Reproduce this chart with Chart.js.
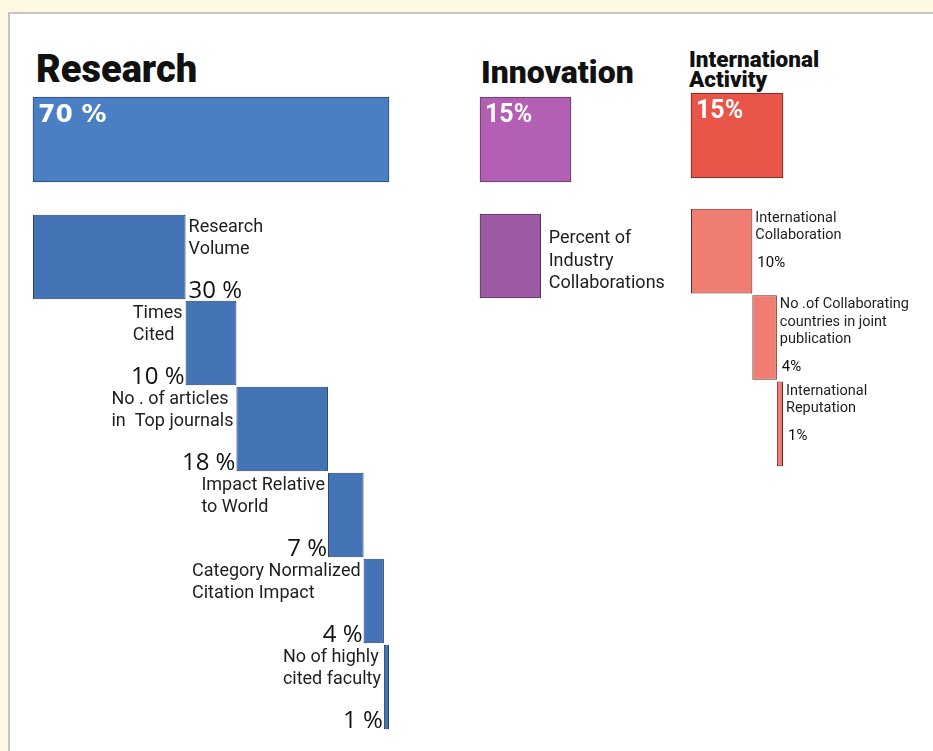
<!DOCTYPE html>
<html>
<head>
<meta charset="utf-8">
<script src="https://cdn.jsdelivr.net/npm/chart.js@4.4.1/dist/chart.umd.min.js"></script>
<style>
  html, body { margin: 0; padding: 0; }
  body { width: 933px; height: 751px; background: #fff9e3; position: relative; overflow: hidden; font-family: Roboto, sans-serif; }
  .panel { position: absolute; left: 8px; top: 12px; right: 0; bottom: 0; background: #fff; border-left: 2px solid #c4c4cc; border-top: 2px solid #c4c4cc; }
  canvas, .head { position: absolute; }
  .head { font-weight: 900; color: #111; white-space: nowrap; }
</style>
</head>
<body>
<div class="panel"></div>

<div class="head" style="left:36px; top:50px; font-size:38px; line-height:38px;">Research</div>
<div class="head" style="left:481px; top:56px; font-size:32px; line-height:32px;">Innovation</div>
<div class="head" style="left:689px; top:49px; font-size:22.5px; line-height:20px;">International<br>Activity</div>

<canvas id="researchTotal" width="360" height="89" style="left:31px; top:95px;"></canvas>
<canvas id="researchParts" width="360" height="520" style="left:31px; top:212px;"></canvas>
<canvas id="innovationTotal" width="95" height="89" style="left:478px; top:95px;"></canvas>
<canvas id="innovationParts" width="195" height="88" style="left:478px; top:212px;"></canvas>
<canvas id="internationalTotal" width="96" height="89" style="left:689px; top:91px;"></canvas>
<canvas id="internationalParts" width="236" height="263" style="left:689px; top:206px;"></canvas>

<script>
// Weights of each pillar and of the indicators that make it up
const researchTotal = 70;
const researchNames = [
    ['Research', 'Volume'],
    ['Times', 'Cited'],
    ['No . of articles', 'in  Top journals'],
    ['Impact Relative', 'to World'],
    ['Category Normalized', 'Citation Impact'],
    ['No of highly', 'cited faculty']
];
const researchValues = [30, 10, 18, 7, 4, 1];

const innovationTotal = 15;
const innovationNames = [['Percent of', 'Industry', 'Collaborations']];
const innovationValues = [10];

const internationalTotal = 15;
const internationalNames = [
    ['International', 'Collaboration'],
    ['No .of Collaborating', 'countries in joint', 'publication'],
    ['International', 'Reputation']
];
const internationalValues = [10, 4, 1];

// Writes names and percentages next to (or inside) each bar
const barLabels = {
    id: 'barLabels',
    afterDatasetsDraw(chart, args, opts) {
        const ctx = chart.ctx;
        const ds = chart.data.datasets[0];
        chart.getDatasetMeta(0).data.forEach((bar, i) => {
            const [a, b] = ds.data[i];
            const text = opts.format(Math.round(b - a));
            const left = Math.min(bar.x, bar.base);
            const right = Math.max(bar.x, bar.base);
            const top = bar.y - bar.height / 2;
            const bottom = bar.y + bar.height / 2;

            ctx.save();
            ctx.textBaseline = 'alphabetic';
            ctx.textAlign = 'left';

            if (opts.inside) {
                ctx.font = opts.valueFont;
                ctx.fillStyle = '#fff';
                ctx.fillText(text, left + opts.dx, top + opts.dy);
                ctx.restore();
                return;
            }

            const lines = [].concat(chart.data.labels[i]);
            const side = opts.side(i);
            ctx.font = opts.nameFont;
            ctx.fillStyle = '#1e1e1e';
            const w = Math.max(...lines.map(l => ctx.measureText(l).width));
            const x = side === 'left' ? left - opts.gap - w : right + opts.gap;
            const y0 = top + opts.nameDy;
            lines.forEach((l, k) => ctx.fillText(l, x, y0 + k * opts.lineHeight));

            if (opts.showValue) {
                ctx.font = opts.valueFont;
                ctx.fillStyle = '#111';
                if (opts.valueAt === 'bottom') {
                    if (side === 'left') {
                        ctx.textAlign = 'right';
                        ctx.fillText(text, left - 1, bottom - 1);
                    } else {
                        ctx.fillText(text, right + opts.gap, bottom - 1);
                    }
                } else {
                    const yl = y0 + (lines.length - 1) * opts.lineHeight;
                    ctx.fillText(text, right + opts.valueDx, yl + opts.valueGap);
                }
            }
            ctx.restore();
        });
    }
};

// Floating horizontal bars, each one starting where the previous ended
function waterfall(id, names, values, max, style) {
    const ranges = [];
    let run = 0;
    values.forEach(v => {
        ranges.push([run, run + v]);
        run += v;
    });

    return new Chart(document.getElementById(id), {
        type: 'bar',
        data: {
            labels: names,
            datasets: [{
                data: ranges,
                backgroundColor: style.color,
                borderColor: style.border,
                borderWidth: 1,
                borderSkipped: false,
                barPercentage: style.barPct || 1,
                categoryPercentage: 1,
                clip: false
            }]
        },
        options: {
            indexAxis: 'y',
            responsive: false,
            animation: false,
            devicePixelRatio: 1,
            layout: { padding: style.padding },
            scales: {
                x: { type: 'linear', display: false, min: 0, max: max },
                y: { display: false }
            },
            plugins: {
                legend: { display: false },
                tooltip: { enabled: false },
                barLabels: style.labels
            }
        },
        plugins: [barLabels]
    });
}

const pad = { left: 2, right: 2, top: 2, bottom: 2 };
const whiteValue = (font, fmt) => ({ inside: true, valueFont: font, dx: 5, dy: 25, format: fmt });

// Research
waterfall('researchTotal', ['Research'], [researchTotal], researchTotal, {
    color: '#4a7fc3', border: '#2c4a70', padding: pad,
    labels: whiteValue('bold 25px "DejaVu Sans"', v => v + ' %')
});
waterfall('researchParts', researchNames, researchValues, researchTotal, {
    color: '#4473b6', border: '#263f60', padding: pad, barPct: 0.985,
    labels: {
        side: i => (i === 0 ? 'right' : 'left'),
        nameFont: '18px Roboto', lineHeight: 22, nameDy: 17, gap: 3,
        showValue: true, valueAt: 'bottom', valueFont: '24px "Open Sans"',
        format: v => v + ' %'
    }
});

// Innovation
waterfall('innovationTotal', ['Innovation'], [innovationTotal], innovationTotal, {
    color: '#b35fb3', border: '#5b3a5b', padding: pad,
    labels: whiteValue('bold 25px Roboto', v => v + '%')
});
waterfall('innovationParts', innovationNames, innovationValues, innovationTotal, {
    color: '#9d5ba3', border: '#553757', padding: { left: 2, right: 102, top: 2, bottom: 2 },
    labels: {
        side: () => 'right',
        nameFont: '18px Roboto', lineHeight: 22.5, nameDy: 29, gap: 8,
        showValue: false, format: v => v + '%'
    }
});

// International Activity
waterfall('internationalTotal', ['International Activity'], [internationalTotal], internationalTotal, {
    color: '#ea5549', border: '#5e2a25', padding: pad,
    labels: whiteValue('bold 25px Roboto', v => v + '%')
});
waterfall('internationalParts', internationalNames, internationalValues, internationalTotal, {
    color: '#f07d72', border: '#5e2a25', padding: { left: 2, right: 142, top: 2, bottom: 2 }, barPct: 0.98,
    labels: {
        side: () => 'right',
        nameFont: '14.5px Roboto', lineHeight: 17.5, nameDy: 13, gap: 3,
        showValue: true, valueAt: 'after', valueFont: '15px Roboto', valueDx: 5, valueGap: 28,
        format: v => v + '%'
    }
});
</script>
</body>
</html>
